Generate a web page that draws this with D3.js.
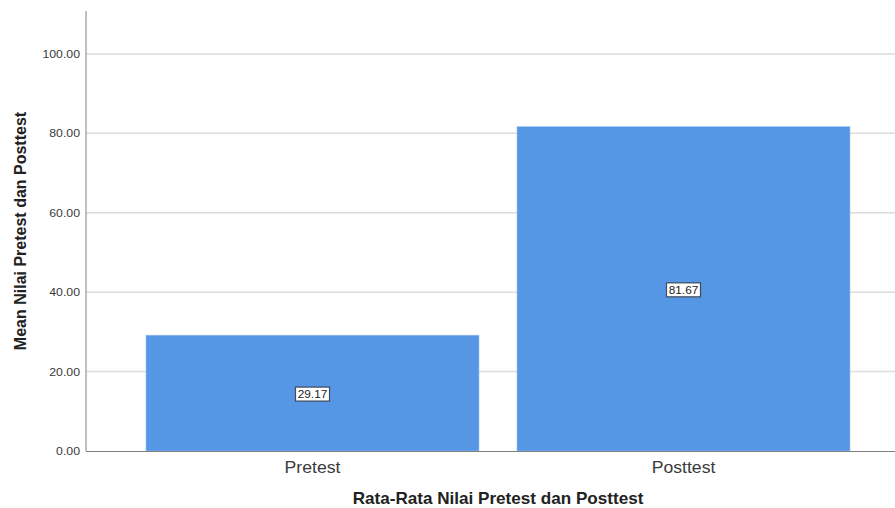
<!DOCTYPE html>
<html><head><meta charset="utf-8">
<script src="https://cdn.jsdelivr.net/npm/d3@7"></script>
<style>body{margin:0;background:#fff}svg{display:block}</style>
</head><body>
<svg id="c" width="895" height="508"></svg>
<script>
const categories = ["Pretest", "Posttest"];
const values = [29.17, 81.67];
const yTicks = [0, 20, 40, 60, 80, 100];

const svg = d3.select("#c");
const font = "'Liberation Sans', Arial, sans-serif";
const axisX = 86, plotRight = 895, y0 = 451, yTop = 11;
const sx = 1.07;

const y = d3.scaleLinear().domain([0, 110.8]).range([y0, yTop]);
const x = d3.scaleBand().domain(categories).range([127, 869]).paddingInner(0.1024).paddingOuter(0.0512);

// gridlines
svg.append("g").selectAll("line").data(yTicks.filter(d => d > 0)).join("line")
  .attr("x1", axisX).attr("x2", plotRight)
  .attr("y1", d => y(d)).attr("y2", d => y(d))
  .attr("stroke", "#dcdcdc").attr("stroke-width", 1.5);

// bars
svg.append("g").selectAll("rect").data(values).join("rect")
  .attr("x", (d, i) => x(categories[i]))
  .attr("width", x.bandwidth())
  .attr("y", d => y(d))
  .attr("height", d => y(0) - y(d))
  .attr("fill", "#5596e5")
  .attr("stroke", "#9cc2f0").attr("stroke-width", 0.6);

// axes lines
svg.append("line").attr("x1", axisX).attr("x2", axisX).attr("y1", yTop).attr("y2", y0)
  .attr("stroke", "#808080").attr("stroke-width", 1);
svg.append("line").attr("x1", axisX).attr("x2", plotRight).attr("y1", y0 + 0.5).attr("y2", y0 + 0.5)
  .attr("stroke", "#808080").attr("stroke-width", 1);

// y tick labels
svg.append("g").selectAll("text").data(yTicks).join("text")
  .attr("transform", d => `translate(${axisX - 6},${y(d)}) scale(${sx},1)`)
  .attr("dy", "0.35em")
  .attr("text-anchor", "end").attr("font-family", font).attr("font-size", 11.5)
  .attr("fill", "#3a3a3a").text(d => d.toFixed(2));

// x category labels
svg.append("g").selectAll("text").data(categories).join("text")
  .attr("transform", d => `translate(${x(d) + x.bandwidth() / 2},467) scale(${sx},1)`)
  .attr("dy", "0.35em")
  .attr("text-anchor", "middle").attr("font-family", font).attr("font-size", 16.5)
  .attr("fill", "#3a3a3a").text(d => d);

// value labels
const lab = svg.append("g").selectAll("g").data(values).join("g")
  .attr("transform", (d, i) => `translate(${x(categories[i]) + x.bandwidth() / 2},${y(d / 2) + 1})`);
lab.append("rect").attr("x", -17).attr("y", -7).attr("width", 34).attr("height", 14)
  .attr("fill", "#fff").attr("stroke", "#3d4a5a").attr("stroke-width", 1.2);
lab.append("text").attr("dy", "0.36em").attr("text-anchor", "middle")
  .attr("transform", `scale(${sx},1)`)
  .attr("font-family", font).attr("font-size", 11).attr("fill", "#222")
  .text(d => d.toFixed(2));

// axis titles
svg.append("text").attr("transform", `translate(498,498) scale(${sx},1)`).attr("dy", "0.35em")
  .attr("text-anchor", "middle").attr("font-family", font).attr("font-size", 16)
  .attr("font-weight", "bold").attr("fill", "#222").text("Rata-Rata Nilai Pretest dan Posttest");
svg.append("text").attr("transform", "translate(20,231) rotate(-90)").attr("dy", "0.35em")
  .attr("text-anchor", "middle").attr("font-family", font).attr("font-size", 16)
  .attr("font-weight", "bold").attr("fill", "#222").text("Mean Nilai Pretest dan Posttest");
</script>
</body></html>
